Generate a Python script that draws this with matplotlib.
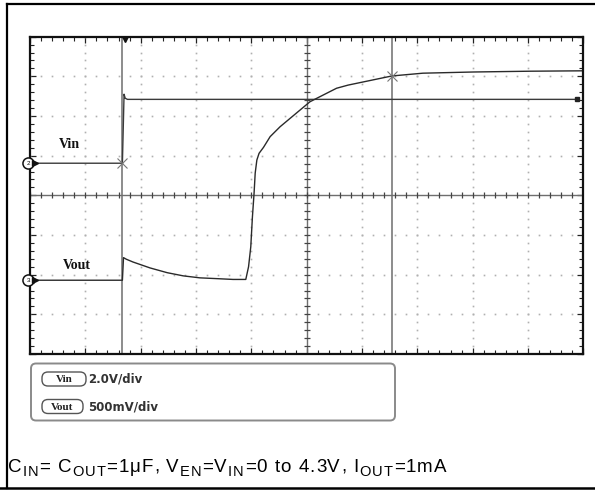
import numpy as np
import matplotlib
matplotlib.use('Agg')
import matplotlib.pyplot as plt
from matplotlib.patches import FancyBboxPatch
from matplotlib.lines import Line2D

plt.rcParams['font.family'] = ['Liberation Sans', 'DejaVu Sans']

# ---- screen data (divisions: x 0..10, y -4..4) ----
vin_t = [0.0, 1.67, 1.70, 1.72, 1.76, 9.88]
vin_v = [0.81, 0.81, 2.55, 2.45, 2.42, 2.42]

vout_t = [0.0, 1.67, 1.69, 1.74, 1.86, 2.17, 2.48, 2.77, 3.07, 3.38, 3.67, 3.90,
          3.95, 3.99, 4.02, 4.05, 4.07, 4.10, 4.14, 4.22, 4.34, 4.52, 4.70, 4.88,
          5.06, 5.30, 5.54, 5.75, 6.54, 7.10, 8.01, 9.04, 10.0]
vout_v = [-2.14, -2.14, -1.57, -1.61, -1.68, -1.83, -1.95, -2.03, -2.08, -2.10, -2.12, -2.12,
          -1.80, -1.30, -0.54, 0.06, 0.56, 0.89, 1.06, 1.21, 1.48, 1.73, 1.94, 2.15,
          2.36, 2.53, 2.70, 2.78, 3.01, 3.08, 3.11, 3.13, 3.14]

cursor_t = [1.67, 6.54]
cursor_marks = [(1.67, 0.81), (6.54, 3.01)]
ch_labels = ['Vin', 'Vout']
ch_label_pos = [(0.71, 1.27), (0.84, -1.76)]
ch_ground = [0.81, -2.14]
ch_num = ['2', '3']
scales = ['2.0V/div', '500mV/div']
# caption pieces: (text, is_subscript)
caption = [('C', False), ('IN', True), ('= C', False), ('OUT', True),
           ('=1μF, V', False), ('EN', True), ('=V', False), ('IN', True),
           ('=0 to 4.3V, I', False), ('OUT', True), ('=1mA', False)]

W, H = 595, 490
fig = plt.figure(figsize=(W / 100, H / 100), dpi=100)

# overlay in pixel coords for frame/legend/caption
ov = fig.add_axes([0, 0, 1, 1])
ov.set_xlim(0, W)
ov.set_ylim(H, 0)
ov.axis('off')

ax = fig.add_axes([30 / W, 1 - 354 / H, 553.3 / W, 317.3 / H])
ax.set_xlim(0, 10)
ax.set_ylim(-4, 4)
ax.set_xticks(np.arange(0, 11, 1))
ax.set_yticks(np.arange(-4, 5, 1))
ax.set_xticks(np.arange(0, 10.01, 0.2), minor=True)
ax.set_yticks(np.arange(-4, 4.01, 0.2), minor=True)
ax.tick_params(which='both', direction='in', top=True, right=True,
               labelbottom=False, labelleft=False, color='#222')
ax.tick_params(which='major', length=4.5, width=0.9)
ax.tick_params(which='minor', length=3, width=0.8)
for s in ax.spines.values():
    s.set_linewidth(1.6)
    s.set_color('#111')

# dotted grid
minor_x = np.arange(0, 10.01, 0.2)
minor_y = np.arange(-4, 4.01, 0.2)
for k in [-3, -2, -1, 1, 2, 3]:
    ax.plot(minor_x, np.full_like(minor_x, k), ls='none', marker='s', ms=1.2,
            color='#b0b0b0', mew=0)
for k in [1, 2, 3, 4, 6, 7, 8, 9]:
    ax.plot(np.full_like(minor_y, k), minor_y, ls='none', marker='s', ms=1.2,
            color='#b0b0b0', mew=0)

# center lines with minor ticks
ax.axhline(0, color='#6e6e6e', lw=1.0)
ax.axvline(5, color='#6e6e6e', lw=1.0)
ax.plot(minor_x, np.zeros_like(minor_x), ls='none', marker='|', ms=5, mew=0.9, color='#444')
ax.plot(np.full_like(minor_y, 5), minor_y, ls='none', marker='_', ms=5, mew=0.9, color='#444')

# cursors
for c in cursor_t:
    ax.axvline(c, color='#6e6e6e', lw=1.1)
ax.plot([1.72], [3.93], marker='v', ms=4.5, color='#111', ls='none')

# traces
ax.plot(vin_t, vin_v, color='#3a3a3a', lw=1.0)
ax.plot([vin_t[-1]], [vin_v[-1]], marker='s', ms=2.5, color='#222')
ax.plot(vout_t, vout_v, color='#2a2a2a', lw=1.0)
for (cx, cy) in cursor_marks:
    ax.plot([cx], [cy], marker='x', ms=7, mew=0.8, color='#777')

# channel labels and ground markers
for lab, (lx, ly), g, n in zip(ch_labels, ch_label_pos, ch_ground, ch_num):
    ax.text(lx, ly, lab, family='Liberation Serif', weight='bold', fontsize=10,
            ha='center', va='center', color='#111')
    ax.plot([-0.03], [g], marker='o', ms=8, mfc='white', mec='#111', mew=1.1,
            clip_on=False, zorder=5)
    ax.text(-0.03, g, n, fontsize=4.5, ha='center', va='center', zorder=6, clip_on=False)
    ax.plot([0.09], [g], marker='>', ms=4, color='#111', clip_on=False, zorder=5)

# legend box
ov.add_patch(FancyBboxPatch((31, 363.5), 364, 57, boxstyle='round,pad=0,rounding_size=5',
                            fc='white', ec='#8a8a8a', lw=1.4))
for i, (lab, sc) in enumerate(zip(ch_labels, scales)):
    yc = 379 + i * 27.5
    pw = 44 if i == 0 else 41
    ov.add_patch(FancyBboxPatch((42, yc - 7), pw, 14, boxstyle='round,pad=0,rounding_size=6',
                                fc='white', ec='#555', lw=1.0))
    ov.text(42 + pw / 2, yc + 0.5, lab, family='Liberation Serif', weight='bold',
            fontsize=8, ha='center', va='center', color='#222')
    ov.text(88, yc, sc, family='DejaVu Sans', weight='bold', fontsize=8.5,
            ha='left', va='center', color='#333')

# caption, drawn char by char (large subscripts, a little extra tracking)
rend = fig.canvas.get_renderer()
x = 8
track = 1.05
for txt, sub in caption:
    for ch in txt:
        t = ov.text(x, 471.5 + (4.5 if sub else 0), ch, fontsize=10.5 if sub else 13.5,
                    ha='left', va='baseline', color='black')
        w = t.get_window_extent(rend).width
        if ch == ' ':
            w = (10.5 if sub else 13.5) * 100 / 72 * 0.278
        x += w + track

# outer border
ov.add_line(Line2D([7, 595], [4, 4], color='black', lw=1.6))
ov.add_line(Line2D([7, 7], [4, 488], color='black', lw=1.6))
ov.add_line(Line2D([0, 595], [487.5, 487.5], color='black', lw=1.8))

fig.savefig('out.png', dpi=100)
